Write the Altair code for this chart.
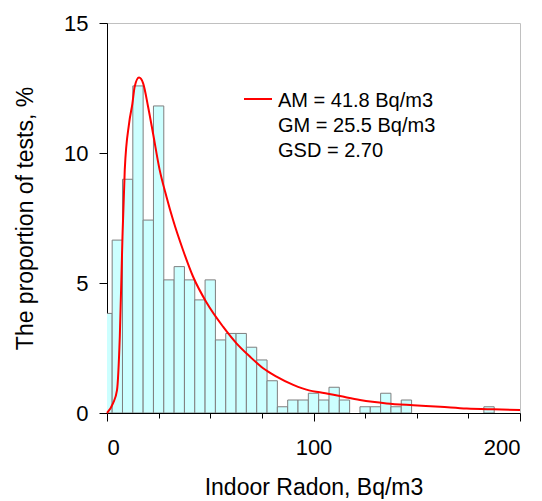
import altair as alt
import pandas as pd

# Histogram: bin centres (Bq/m3) and proportion of tests (%)
bin_centers = [0, 5, 10, 15, 20, 25, 30, 35, 40, 45, 50, 55, 60, 65, 70, 75, 80,
               85, 90, 95, 100, 105, 110, 115, 125, 130, 135, 140, 145, 185]
bin_values = [3.83, 6.65, 8.99, 12.58, 7.42, 11.81, 5.12, 5.63, 5.12, 4.35, 5.12,
              2.81, 3.06, 3.06, 2.53, 2.04, 1.24, 0.24, 0.5, 0.5, 0.76, 0.5, 0.99,
              0.5, 0.24, 0.24, 0.76, 0.24, 0.5, 0.24]
bin_width = 5

# Fitted curve
curve_x = [0, 2.9, 4.85, 6.2, 7.5, 8.6, 10.7, 12.3, 13.4, 15.5, 17.5, 19.9, 22.3,
           25.5, 28.8, 32, 36.8, 41.7, 48.2, 56.2, 62.7, 69.2, 75.6, 82.1, 90.2,
           98.3, 103, 112.8, 122.5, 135.4, 148.3, 161.3, 174.2, 187.1, 200]
curve_y = [0, 0.37, 0.88, 2.93, 6.78, 9.35, 11.14, 11.9, 12.55, 12.9, 12.68, 11.78,
           10.75, 9.35, 8.32, 7.42, 6.27, 5.24, 4.25, 3.32, 2.68, 2.17, 1.72, 1.40,
           1.08, 0.86, 0.8, 0.65, 0.5, 0.37, 0.3, 0.24, 0.17, 0.14, 0.12]

legend_lines = ["AM = 41.8 Bq/m3", "GM = 25.5 Bq/m3", "GSD = 2.70"]

x_ticks = [0, 25, 50, 75, 100, 125, 150, 175, 200]
y_ticks = [0, 5, 10, 15]

FONT = "Liberation Sans"

bars_df = pd.DataFrame({"c": bin_centers, "v": bin_values})
bars_df["x0"] = bars_df["c"] - bin_width / 2
bars_df["x1"] = bars_df["c"] + bin_width / 2
curve_df = pd.DataFrame({"x": curve_x, "y": curve_y})
note_df = pd.DataFrame({"text": ["\n".join(legend_lines)]})

x_scale = alt.Scale(domain=[0, 200], nice=False, zero=False)
y_scale = alt.Scale(domain=[0, 15], nice=False)

x_axis = alt.Axis(
    values=x_ticks,
    title="Indoor Radon, Bq/m3",
    labelExpr="datum.value % 100 === 0 ? datum.label : ''",
    tickSize={"condition": {"test": "datum.value % 100 === 0", "value": 8}, "value": 5},
    labelPadding=16,
    labelFontSize=22,
    titleFontSize=23,
    titleFontWeight="normal",
    titleBaseline="alphabetic",
    titleY=81,
    grid=False,
)
y_axis = alt.Axis(
    values=y_ticks,
    title="The proportion of tests, %",
    tickSize=8,
    labelPadding=11,
    labelFontSize=22,
    titleFontSize=23,
    titleFontWeight="normal",
    titleBaseline="alphabetic",
    titleX=-75,
    grid=False,
)

bars = alt.Chart(bars_df).mark_bar(
    fill="#ccffff", stroke="#7f7f7f", strokeWidth=1, clip=True
).encode(
    x=alt.X("x0:Q", scale=x_scale, axis=x_axis),
    x2="x1:Q",
    y=alt.Y("v:Q", scale=y_scale, axis=y_axis),
    y2=alt.datum(0),
)

curve = alt.Chart(curve_df).mark_line(
    color="#ff0000", strokeWidth=2, interpolate="monotone"
).encode(
    x=alt.X("x:Q", scale=x_scale),
    y=alt.Y("y:Q", scale=y_scale),
)

legend_line = alt.Chart(note_df).mark_rule(color="#ff0000", strokeWidth=2).encode(
    x=alt.value(137), x2=alt.value(165), y=alt.value(76)
)

legend_text = alt.Chart(note_df).mark_text(
    align="left", baseline="alphabetic", fontSize=20, font=FONT,
    lineBreak="\n", lineHeight=25, color="black"
).encode(
    x=alt.value(171), y=alt.value(84), text="text:N"
)

chart = alt.layer(bars, curve, legend_line, legend_text).properties(
    width=413,
    height=390,
    autosize=alt.AutoSizeParams(type="none"),
    padding={"left": 99, "top": 15, "right": 14, "bottom": 86},
).configure(
    font=FONT,
).configure_view(
    stroke="#c0c0c0", strokeWidth=1
).configure_axis(
    domainColor="black", tickColor="black", labelColor="black", titleColor="black",
    labelFont=FONT, titleFont=FONT, domainWidth=1, tickWidth=1,
)

chart.save("out.html", embed_options={"renderer": "svg", "actions": False})
